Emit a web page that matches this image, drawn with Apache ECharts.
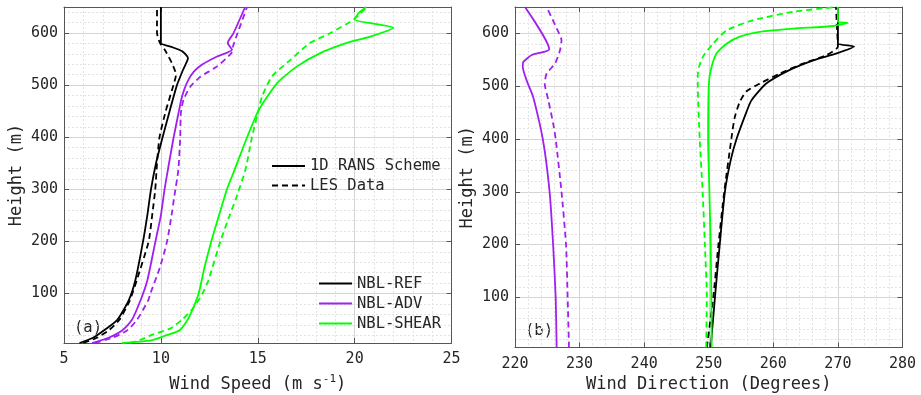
<!DOCTYPE html>
<html>
<head>
<meta charset="utf-8">
<script src="https://cdn.jsdelivr.net/npm/echarts@6/dist/echarts.min.js"></script>
<style>
html,body{margin:0;padding:0;background:#fff;}
#c{width:921px;height:395px;}
</style>
</head>
<body>
<div id="c"></div>
<script>
// ---------- tick values ----------
const yMajor = [100, 200, 300, 400, 500, 600];
const yMinor = [20, 40, 60, 80, 120, 140, 160, 180, 220, 240, 260, 280, 320, 340, 360, 380,
  420, 440, 460, 480, 520, 540, 560, 580, 620, 640];

// ---------- panel (a): wind speed ----------
const refSpdRansH = [5, 15, 29, 49, 87, 125, 200, 250, 300, 350, 400, 450, 500, 529, 552, 565, 574, 581, 600, 650];
const refSpdRansV = [5.8, 6.5, 7.05, 7.74, 8.34, 8.68, 9.08, 9.3, 9.49, 9.75, 10.09, 10.45, 10.83, 11.14, 11.4, 11.1, 10.5, 10.0, 10.0, 10.0];
const refSpdLesH = [5, 15, 29, 49, 87, 125, 200, 250, 300, 350, 400, 450, 500, 520, 542, 568, 581, 600, 620, 650];
const refSpdLesV = [6.0, 6.7, 7.3, 7.85, 8.4, 8.75, 9.37, 9.55, 9.71, 9.8, 9.93, 10.25, 10.65, 10.78, 10.57, 10.2, 9.95, 9.8, 9.8, 9.8];

const advSpdRansH = [5, 15, 29, 49, 87, 125, 200, 250, 300, 350, 400, 450, 472, 491, 510, 526, 540, 555, 568, 581, 600, 650];
const advSpdRansV = [6.45, 7.3, 8.0, 8.5, 8.95, 9.3, 9.72, 10.0, 10.19, 10.42, 10.66, 10.93, 11.05, 11.2, 11.42, 11.7, 12.15, 12.9, 13.67, 13.45, 13.75, 14.35];
const advSpdLesH = [5, 15, 29, 49, 87, 100, 150, 200, 250, 288, 337, 400, 446, 472, 497, 516, 536, 561, 574, 600, 650];
const advSpdLesV = [6.6, 7.5, 8.25, 8.76, 9.35, 9.46, 9.95, 10.32, 10.55, 10.7, 10.9, 11.0, 11.03, 11.17, 11.52, 12.04, 12.9, 13.63, 13.72, 13.96, 14.45];

const shrSpdRansH = [5, 10, 20, 29, 45, 62, 100, 150, 200, 250, 300, 337, 400, 452, 504, 536, 561, 581, 593, 610, 626, 638, 650];
const shrSpdRansV = [8.0, 9.5, 10.3, 10.95, 11.3, 11.55, 11.95, 12.25, 12.6, 13.0, 13.41, 13.8, 14.45, 15.05, 16.0, 17.03, 18.2, 19.6, 20.8, 22.0, 20.0, 20.2, 20.6];
const shrSpdLesH = [5, 12, 20, 33, 50, 71, 100, 125, 200, 250, 288, 337, 400, 440, 478, 517, 549, 581, 600, 626, 650];
const shrSpdLesV = [8.4, 9.0, 9.5, 10.5, 11.1, 11.65, 12.15, 12.45, 13.07, 13.55, 13.93, 14.36, 14.7, 14.96, 15.22, 15.74, 16.7, 17.7, 18.75, 19.95, 20.64];

// ---------- panel (b): wind direction ----------
const refDirRansH = [5, 100, 200, 300, 360, 400, 450, 473, 505, 530, 549, 562, 575, 581, 600, 650];
const refDirRansV = [250.3, 250.96, 251.7, 252.5, 253.4, 254.3, 255.8, 256.6, 258.9, 262.4, 266.2, 269.8, 272.5, 270.0, 270.0, 270.0];
const refDirLesH = [5, 100, 200, 300, 400, 440, 470, 490, 505, 524, 543, 559, 575, 600, 650];
const refDirLesV = [249.7, 250.7, 251.5, 252.4, 253.5, 254.0, 254.8, 255.8, 257.9, 261.0, 264.6, 268.25, 270.0, 269.9, 269.7];

const advDirRansH = [5, 100, 200, 294, 360, 400, 430, 480, 511, 537, 546, 559, 570, 650];
const advDirRansV = [226.45, 226.3, 225.9, 225.4, 224.8, 224.3, 223.8, 222.8, 221.8, 221.2, 221.3, 222.6, 225.3, 221.55];
const advDirLesH = [5, 100, 200, 300, 400, 430, 474, 505, 524, 543, 568, 587, 612, 650];
const advDirLesV = [228.36, 228.15, 227.9, 227.2, 226.3, 225.9, 225.15, 224.6, 224.9, 226.2, 226.97, 227.2, 226.35, 224.9];

const shrDirRansH = [5, 100, 200, 300, 400, 500, 530, 562, 581, 594, 603, 609, 614, 620, 622, 650];
const shrDirRansV = [250.45, 250.4, 250.3, 250.1, 249.9, 250.0, 250.3, 251.2, 252.8, 254.8, 257.9, 263.1, 269.3, 271.5, 270.0, 270.0];
const shrDirLesH = [5, 100, 200, 300, 400, 500, 521, 537, 556, 581, 606, 625, 641, 650];
const shrDirLesV = [249.6, 249.7, 249.4, 249.05, 248.6, 248.3, 248.3, 248.5, 249.1, 250.7, 252.8, 256.9, 263.1, 269.8];

// ---------- styles ----------
const FONT = 'DejaVu Sans Mono';
const TXT = '#262626';
const FRAME = '#555555';
const C_REF = '#000000', C_ADV = '#a020f0', C_SHR = '#00ff00';
const majorLine = {color: '#d4d4d4', width: 1};
const minorLine = {color: '#e3e3e3', width: 1, type: [2, 2]};
const DASH = [6, 4];

function pairs(v, h) { return v.map((x, i) => [x, h[i]]); }

function mkSeries(name, v, h, color, dashed, gi) {
  return {
    name: name, type: 'line', data: pairs(v, h),
    xAxisIndex: gi * 2, yAxisIndex: gi * 3,
    symbol: 'none', smooth: 0.2, animation: false,
    lineStyle: {color: color, width: 1.8, type: dashed ? DASH : 'solid'},
    itemStyle: {color: color}
  };
}

function xAxes(gi, min, max, interval, name, gap) {
  return [
    {gridIndex: gi, type: 'value', min: min, max: max, interval: interval, position: 'bottom',
     axisLine: {show: true, lineStyle: {color: FRAME, width: 1}},
     axisTick: {show: true, inside: true, length: 5, lineStyle: {color: FRAME}},
     axisLabel: {show: true, margin: 9, fontFamily: FONT, fontSize: 15, color: TXT},
     splitLine: {show: true, lineStyle: majorLine},
     minorTick: {show: false, splitNumber: 5},
     minorSplitLine: {show: true, lineStyle: minorLine},
     name: name, nameLocation: 'middle', nameGap: gap,
     nameTextStyle: {fontFamily: FONT, fontSize: 17, color: TXT,
       rich: {sup: {fontFamily: FONT, fontSize: 11, color: TXT, padding: [0, 0, 10, 0]}}}},
    {gridIndex: gi, type: 'value', min: min, max: max, interval: interval, position: 'top',
     axisLine: {show: true, lineStyle: {color: FRAME, width: 1}},
     axisTick: {show: true, inside: true, length: 5, lineStyle: {color: FRAME}},
     axisLabel: {show: false}, splitLine: {show: false}}
  ];
}

function yAxes(gi) {
  return [
    {gridIndex: gi, type: 'value', min: 5, max: 650, position: 'left',
     axisLine: {show: true, lineStyle: {color: FRAME, width: 1}},
     axisTick: {show: true, inside: true, length: 5, lineStyle: {color: FRAME}, customValues: yMajor},
     axisLabel: {show: true, margin: 6, fontFamily: FONT, fontSize: 15, color: TXT, customValues: yMajor},
     splitLine: {show: true, lineStyle: majorLine},
     name: 'Height (m)', nameLocation: 'middle', nameGap: 39, nameRotate: 90,
     nameTextStyle: {fontFamily: FONT, fontSize: 17, color: TXT}},
    {gridIndex: gi, type: 'value', min: 5, max: 650, position: 'right',
     axisLine: {show: true, lineStyle: {color: FRAME, width: 1}},
     axisTick: {show: true, inside: true, length: 5, lineStyle: {color: FRAME}, customValues: yMajor},
     axisLabel: {show: false}, splitLine: {show: false}},
    {gridIndex: gi, type: 'value', min: 5, max: 650, position: 'left',
     axisLine: {show: false}, axisTick: {show: false, customValues: yMinor},
     axisLabel: {show: false, customValues: yMinor},
     splitLine: {show: true, lineStyle: minorLine}}
  ];
}

const legendText = {fontFamily: FONT, fontSize: 15.5, color: TXT, lineHeight: 16};
const legendItem = {opacity: 0, color: 'transparent', borderWidth: 0};

const option = {
  animation: false,
  backgroundColor: '#ffffff',
  grid: [
    {left: 64, top: 7, width: 387.5, height: 336, containLabel: false, outerBoundsMode: 'none'},
    {left: 515, top: 7, width: 387.5, height: 340.5, containLabel: false, outerBoundsMode: 'none'}
  ],
  xAxis: [
    ...xAxes(0, 5, 25, 5, 'Wind Speed (m s{sup|-1})', 31),
    ...xAxes(1, 220, 280, 10, 'Wind Direction (Degrees)', 26)
  ],
  yAxis: [...yAxes(0), ...yAxes(1)],
  legend: [
    {data: ['1D RANS Scheme', 'LES Data'], orient: 'vertical', left: 271, top: 158,
     itemWidth: 33, itemHeight: 14, itemGap: 3.5, padding: 0, selectedMode: false,
     itemStyle: legendItem, textStyle: legendText},
    {data: ['NBL-REF', 'NBL-ADV', 'NBL-SHEAR'], orient: 'vertical', left: 318, top: 275.5,
     itemWidth: 33, itemHeight: 14, itemGap: 4, padding: 0, selectedMode: false,
     itemStyle: legendItem, textStyle: legendText}
  ],
  graphic: [
    {type: 'text', left: 74, top: 320, style: {text: '(a)', fontFamily: FONT, fontSize: 15.5, fill: TXT}},
    {type: 'text', left: 525, top: 323, style: {text: '(b)', fontFamily: FONT, fontSize: 15.5, fill: TXT}}
  ],
  series: [
    mkSeries('NBL-REF', refSpdRansV, refSpdRansH, C_REF, false, 0),
    mkSeries('NBL-REF (LES)', refSpdLesV, refSpdLesH, C_REF, true, 0),
    mkSeries('NBL-ADV', advSpdRansV, advSpdRansH, C_ADV, false, 0),
    mkSeries('NBL-ADV (LES)', advSpdLesV, advSpdLesH, C_ADV, true, 0),
    mkSeries('NBL-SHEAR', shrSpdRansV, shrSpdRansH, C_SHR, false, 0),
    mkSeries('NBL-SHEAR (LES)', shrSpdLesV, shrSpdLesH, C_SHR, true, 0),
    mkSeries('NBL-REF', refDirRansV, refDirRansH, C_REF, false, 1),
    mkSeries('NBL-REF (LES)', refDirLesV, refDirLesH, C_REF, true, 1),
    mkSeries('NBL-ADV', advDirRansV, advDirRansH, C_ADV, false, 1),
    mkSeries('NBL-ADV (LES)', advDirLesV, advDirLesH, C_ADV, true, 1),
    mkSeries('NBL-SHEAR', shrDirRansV, shrDirRansH, C_SHR, false, 1),
    mkSeries('NBL-SHEAR (LES)', shrDirLesV, shrDirLesH, C_SHR, true, 1),
    {name: '1D RANS Scheme', type: 'line', data: [], xAxisIndex: 0, yAxisIndex: 0, symbol: 'none',
     lineStyle: {color: '#000', width: 1.8, type: 'solid'}, itemStyle: {color: '#000'}},
    {name: 'LES Data', type: 'line', data: [], xAxisIndex: 0, yAxisIndex: 0, symbol: 'none',
     lineStyle: {color: '#000', width: 1.8, type: DASH}, itemStyle: {color: '#000'}}
  ]
};

const chart = echarts.init(document.getElementById('c'), null, {renderer: 'canvas'});
chart.setOption(option);
</script>
</body>
</html>
